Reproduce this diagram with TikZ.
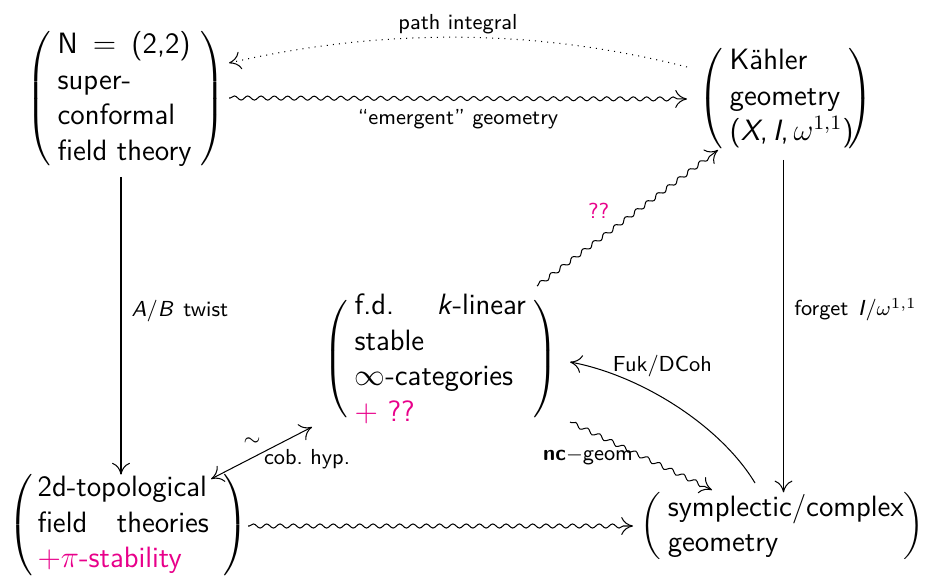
\documentclass[tikz,border=0pt]{standalone}
\usepackage{amsmath}
\usetikzlibrary{arrows.meta,decorations.pathmorphing,calc}
\definecolor{pk}{RGB}{232,0,138}
\newcommand\sfi[1]{\textsf{\itshape #1}}
\newcommand\Ls[1]{\makebox[\linewidth][s]{#1}\par}
\newcommand\Ll[1]{\makebox[\linewidth][l]{#1}\par}
% a block of lines between two tall parentheses: left pad, width, right pad, lines
\newcommand\pblock[4]{%
  $\left(\hspace{#1}\vcenter{\hbox{\parbox{#2}{\fontsize{11.5}{13.9}\selectfont #4}}}\hspace{#3}\right)$}
\begin{document}
\begin{tikzpicture}[x=0.39107pt, y=-0.39107pt,
  blk/.style={inner sep=0pt, outer sep=0pt, anchor=west,
    font=\sffamily\fontsize{11}{13.9}\selectfont},
  lab/.style={font=\sffamily\fontsize{8.5}{10}\selectfont, inner sep=1pt},
  arr/.style={-{Computer Modern Rightarrow[length=4.6pt,width=7pt]}},
  dbl/.style={{Computer Modern Rightarrow[length=4.6pt,width=7pt]}-{Computer Modern Rightarrow[length=4.6pt,width=7pt]}},
  wavy/.style={decorate, decoration={snake, amplitude=0.8pt, segment length=5.2pt, post length=2.5pt, pre length=0.5pt}},
]
\useasboundingbox (0,0) rectangle (928,576);

% the five objects
\node[blk] (A) at (26,99)
  {\pblock{2.8pt}{52pt}{3.9pt}{\Ls{N $=$ (2,2)}\Ll{super-}\Ll{conformal}\Ll{field theory}}};
\node[blk] (B) at (698,98.5)
  {\pblock{2.8pt}{44pt}{2.5pt}{\Ll{Kähler}\Ll{geometry}\Ll{(\sfi{X},\,\sfi{I},\,$\omega^{1,1}$)}}};
\node[blk] (C) at (323,359)
  {\pblock{2.8pt}{67pt}{3.1pt}{\Ls{f.d. \sfi{k}-linear}\Ll{stable}\Ll{$\infty$-categories}\Ll{\color{pk}$+$ ??}}};
\node[blk] (D) at (8,525)
  {\pblock{2pt}{67pt}{5.5pt}{\Ll{2d-topological}\Ls{field theories}\Ll{\color{pk}$+\pi$-stability}}};
\node[blk] (E) at (640,526)
  {\pblock{2.8pt}{92pt}{0pt}{\Ll{symplectic/complex}\Ll{geometry}}};

% top row
\draw[arr, dotted] ([shift={(-11,-31.5)}]B.west) .. controls +(-153,-39) and +(153,-35) ..
  ([shift={(203,-36)}]A.west) node[lab, midway, above] {path integral};
\draw[arr, wavy] ([shift={(203,-1)}]A.west) -- ([shift={(-11,0.5)}]B.west)
  node[lab, midway, below=3pt] {``emergent'' geometry};

% verticals
\coordinate (a1) at ([shift={(95,78)}]A.west);
\draw[arr] (a1) -- (a1 |- D.north)
  node[lab, pos=0.45, right=3pt] {\sfi{A}/\sfi{B}\hspace{0.45em}twist};
\coordinate (b1) at ([shift={(85.5,61.5)}]B.west);
\draw[arr] (b1) -- (b1 |- E.north)
  node[lab, pos=0.45, right=3pt] {forget\hspace{0.45em}\sfi{I}/$\omega^{1,1}$};

% arrows around the categories
\draw[arr, wavy] ([shift={(214,-73)}]C.west) -- ([shift={(20,51.5)}]B.west)
  node[lab, midway, xshift=-11.3pt, yshift=2.7pt, text=pk] {??};
\draw[arr] ([shift={(115,-43)}]E.west) .. controls +(-35,-58) and +(70,13) ..
  ([shift={(247,3)}]C.west) node[lab, pos=0.7, xshift=11pt, yshift=6.6pt] {Fuk/DCoh};
\draw[arr, wavy] ([shift={(247,63)}]C.west) -- ([shift={(72,-36)}]E.west)
  node[lab, midway, xshift=-20.7pt, yshift=-0.4pt] {\textbf{nc}$-$geom};
\draw[dbl] ([shift={(203,-46)}]D.west) -- ([shift={(-11,68)}]C.west)
  node[lab, midway, xshift=-3.7pt, yshift=4.3pt] {$\sim$}
  node[lab, midway, xshift=17.8pt, yshift=-2.3pt] {cob.\ hyp.};

% bottom row
\draw[arr, wavy] ([shift={(240,1)}]D.west) -- ([shift={(-7,0)}]E.west);
\end{tikzpicture}
\end{document}
